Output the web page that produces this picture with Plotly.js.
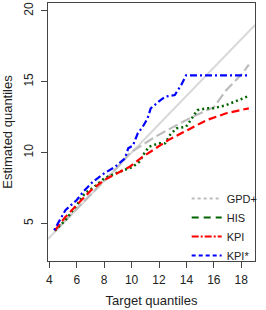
<!DOCTYPE html>
<html><head><meta charset="utf-8">
<script src="https://cdn.plot.ly/plotly-3.0.1.min.js"></script>
<style>html,body{margin:0;padding:0;background:#fff}#chart{width:266px;height:310px}</style>
</head><body><div id="chart"></div>
<script>
const refX = [3.9, 19.0];
const refY = [3.9, 19.0];

const gpdX = [4.4, 5.2, 6.0, 7.0, 8.0, 9.0, 9.9, 11.7, 13.6, 14.6, 16.0, 16.9, 18.1, 18.55];
const gpdY = [4.45, 5.25, 6.0, 7.0, 8.0, 9.0, 10.0, 11.1, 12.1, 12.6, 13.2, 14.4, 15.6, 16.2];

const hisX = [4.4, 5.17, 6.0, 6.58, 7.28, 8.0, 8.81, 9.39, 10.1, 10.57, 10.92, 11.27, 11.97, 12.44, 12.8, 13.26, 13.97, 14.32, 14.79, 15.49, 15.96, 16.9, 18.55];
const hisY = [4.5, 5.23, 6.3, 7.12, 7.59, 8.18, 8.53, 8.76, 9.0, 9.35, 9.94, 10.41, 10.65, 10.65, 11.24, 11.71, 11.82, 12.3, 13.0, 13.12, 13.12, 13.35, 13.99];

const kpiX = [4.4, 5.17, 6.11, 7.05, 8.0, 8.93, 9.86, 10.8, 11.74, 12.68, 13.62, 14.56, 15.5, 16.9, 18.55];
const kpiY = [4.5, 5.46, 6.41, 7.35, 8.06, 8.53, 9.0, 9.7, 10.3, 10.88, 11.36, 11.82, 12.3, 12.77, 13.12];

const kpisX = [4.35, 5.17, 6.0, 6.46, 7.17, 7.99, 8.81, 9.51, 9.75, 10.1, 10.45, 10.8, 11.16, 11.39, 11.97, 12.44, 13.15, 13.62, 13.97, 18.55];
const kpisY = [4.53, 5.94, 6.65, 7.23, 7.94, 8.53, 9.0, 9.59, 10.3, 10.5, 11.36, 11.8, 12.4, 13.12, 13.59, 13.94, 14.06, 14.77, 15.45, 15.45];

const xTicks = [4, 6, 8, 10, 12, 14, 16, 18];
const yTicks = [5, 10, 15, 20];
const seriesNames = ["GPD+", "HIS", "KPI", "KPI*"];

const traces = [
  {x: refX, y: refY, mode: "lines", line: {color: "#d9d9d9", width: 2}, showlegend: false, hoverinfo: "skip"},
  {x: gpdX, y: gpdY, mode: "lines", line: {color: "#bcbcbc", width: 2.2, dash: "10px,4px"}, showlegend: false},
  {x: hisX, y: hisY, mode: "lines", line: {color: "#006400", width: 2.5, dash: "2px,3px"}, showlegend: false},
  {x: kpiX, y: kpiY, mode: "lines", line: {color: "#ff0000", width: 2.2, dash: "8px,4px"}, showlegend: false},
  {x: kpisX, y: kpisY, mode: "lines", line: {color: "#0000ff", width: 2.2, dash: "2px,3px,7px,3px"}, showlegend: false},
  {x: [null], y: [null], mode: "lines", name: seriesNames[0], line: {color: "#bcbcbc", width: 2, dash: "3px,3px"}},
  {x: [null], y: [null], mode: "lines", name: seriesNames[1], line: {color: "#006400", width: 2, dash: "7px,5px"}},
  {x: [null], y: [null], mode: "lines", name: seriesNames[2], line: {color: "#ff0000", width: 2, dash: "7px,2px,2px,2px"}},
  {x: [null], y: [null], mode: "lines", name: seriesNames[3], line: {color: "#0000ff", width: 2, dash: "4px,3px"}}
];

const axisCommon = {
  showgrid: false, zeroline: false,
  showline: true, mirror: true, linecolor: "#444", linewidth: 1,
  ticks: "outside", ticklen: 6, tickcolor: "#444", tickwidth: 1,
  tickfont: {family: "Liberation Sans, Arial, sans-serif", size: 12, color: "#222"}
};

const layout = {
  width: 266, height: 310,
  margin: {l: 48, r: 3, t: 3, b: 49},
  paper_bgcolor: "#fff", plot_bgcolor: "#fff",
  font: {family: "Liberation Sans, Arial, sans-serif", size: 12, color: "#222"},
  xaxis: Object.assign({}, axisCommon, {
    range: [3.9, 19.0], tickvals: xTicks, ticktext: xTicks.map(String), ticklabelstandoff: 2,
    title: {text: "Target quantiles", font: {size: 13}, standoff: 9}
  }),
  yaxis: Object.assign({}, axisCommon, {
    range: [2.35, 20.55], tickvals: yTicks, ticktext: yTicks.map(String), tickangle: -90,
    ticklabelstandoff: 3,
    title: {text: "Estimated quantiles", font: {size: 13}, standoff: 8}
  }),
  legend: {
    x: 0.67, y: -0.035, xanchor: "left", yanchor: "bottom",
    bgcolor: "rgba(0,0,0,0)", borderwidth: 0,
    font: {family: "Liberation Sans, Arial, sans-serif", size: 11, color: "#222"},
    tracegroupgap: 0, itemwidth: 30
  },
  showlegend: true
};

Plotly.newPlot("chart", traces, layout, {staticPlot: true, displayModeBar: false});
</script>
</body></html>
